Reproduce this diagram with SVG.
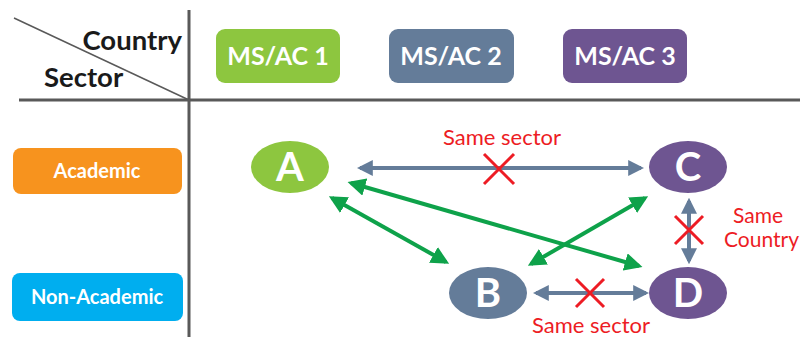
<svg xmlns="http://www.w3.org/2000/svg" width="800" height="337" viewBox="0 0 800 337">
<style>
.grid{stroke:#595959;stroke-width:3;fill:none}
.hdr{font-family:Lato,"Open Sans","Liberation Sans",sans-serif;font-weight:bold;fill:#1a1a1a;font-size:27.5px}
.col{font-family:Lato,"Open Sans","Liberation Sans",sans-serif;font-weight:bold;fill:#fff;font-size:25px;text-anchor:middle}
.row{font-family:Lato,"Open Sans","Liberation Sans",sans-serif;font-weight:bold;fill:#fff;font-size:20px;text-anchor:middle}
.nd{font-family:Lato,"Open Sans","Liberation Sans",sans-serif;font-weight:bold;fill:#fff;font-size:40px;text-anchor:middle}
.lbl{font-family:Lato,"Open Sans","Liberation Sans",sans-serif;fill:#ED1C24;font-size:22px}
.lbl2{font-family:Lato,"Open Sans","Liberation Sans",sans-serif;fill:#ED1C24;font-size:21px}
.g{stroke:#0EA24A;stroke-width:4;fill:none;marker-start:url(#ga);marker-end:url(#ga)}
.s{stroke:#647C99;stroke-width:4;fill:none;marker-start:url(#sa);marker-end:url(#sa)}
.x{stroke:#ED1C24;stroke-width:3;fill:none}
</style>
<defs>
<marker id="ga" viewBox="0 0 10 10" refX="8" refY="5" markerWidth="4.5" markerHeight="4.5" orient="auto-start-reverse" markerUnits="strokeWidth"><path d="M0,0 L10,5 L0,10 z" fill="#0EA24A"/></marker>
<marker id="sa" viewBox="0 0 10 10" refX="8" refY="5" markerWidth="4" markerHeight="4" orient="auto-start-reverse" markerUnits="strokeWidth"><path d="M0,0 L10,5 L0,10 z" fill="#647C99"/></marker>
</defs>
<g id="table">
<line class="grid" x1="189" y1="10" x2="189" y2="337"/>
<line class="grid" x1="19" y1="100" x2="800" y2="100"/>
<line x1="14" y1="18" x2="189" y2="100" stroke="#595959" stroke-width="1.5"/>
<text class="hdr" x="182" y="50" text-anchor="end">Country</text>
<text class="hdr" x="44" y="87">Sector</text>
</g>
<g id="col1"><rect x="216" y="29" width="124" height="54" rx="9" fill="#8DC63F"/><text class="col" x="278" y="65">MS/AC 1</text></g>
<g id="col2"><rect x="389" y="29" width="125" height="54" rx="9" fill="#647C99"/><text class="col" x="451" y="65">MS/AC 2</text></g>
<g id="col3"><rect x="563" y="29" width="124" height="54" rx="9" fill="#6E5591"/><text class="col" x="625" y="65">MS/AC 3</text></g>
<g id="row1"><rect x="13" y="148" width="169" height="46" rx="8" fill="#F7931E"/><text class="row" x="97" y="178">Academic</text></g>
<g id="row2"><rect x="12" y="273" width="171" height="48" rx="8" fill="#00AEEF"/><text class="row" x="97" y="304">Non-Academic</text></g>
<g id="connectors">
<line class="s" x1="360" y1="168" x2="641" y2="168"/>
<line class="s" x1="689" y1="201" x2="689" y2="261"/>
<line class="s" x1="536" y1="293" x2="646" y2="293"/>
<line class="g" x1="351" y1="183" x2="639" y2="266"/>
<line class="g" x1="332" y1="198" x2="446" y2="262"/>
<line class="g" x1="531" y1="264" x2="645" y2="198"/>
<path class="x" d="M484,154 L514,184 M514,154 L484,184"/>
<path class="x" d="M675,216 L703,244 M703,216 L675,244"/>
<path class="x" d="M576,279 L604,307 M604,279 L576,307"/>
<text class="lbl" x="502" y="145" text-anchor="middle">Same sector</text>
<text class="lbl2" x="733" y="223">Same</text>
<text class="lbl2" x="724" y="247">Country</text>
<text class="lbl" x="591" y="333" text-anchor="middle">Same sector</text>
</g>
<g id="A"><ellipse cx="290" cy="167" rx="39" ry="26" fill="#8DC63F"/><text class="nd" x="290" y="181">A</text></g>
<g id="B"><ellipse cx="488" cy="293" rx="39" ry="26" fill="#647C99"/><text class="nd" x="488" y="307">B</text></g>
<g id="C"><ellipse cx="688" cy="167" rx="39" ry="26" fill="#6E5591"/><text class="nd" x="688" y="181">C</text></g>
<g id="D"><ellipse cx="688" cy="293" rx="39" ry="26" fill="#6E5591"/><text class="nd" x="688" y="307">D</text></g>
</svg>
